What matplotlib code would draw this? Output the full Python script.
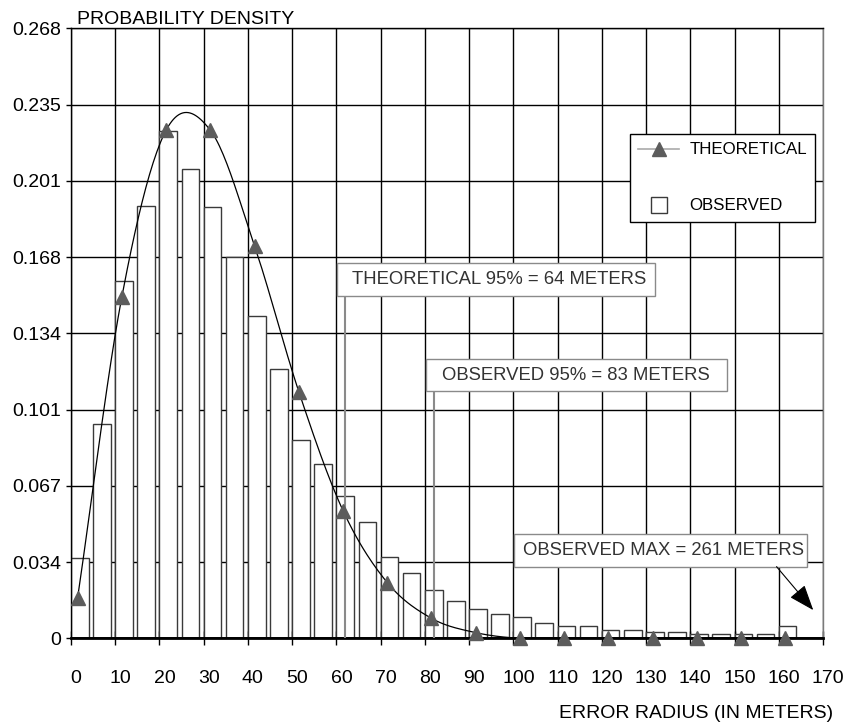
"""Error radius distribution: observed histogram vs theoretical density."""

import matplotlib
matplotlib.use("Agg")
import matplotlib.pyplot as plt
import matplotlib.transforms as mtransforms
from matplotlib.lines import Line2D
from matplotlib.patches import Rectangle
import numpy as np

plt.rcParams["font.family"] = ["Liberation Sans", "DejaVu Sans"]

# observed histogram, 5 m bins (left edge of each bin)
obs_bin_start = list(range(0, 165, 5))
obs_density = [0.0354, 0.0940, 0.1571, 0.1898, 0.2230, 0.2063, 0.1894, 0.1677,
               0.1415, 0.1183, 0.0871, 0.0764, 0.0627, 0.0513, 0.0359, 0.0286,
               0.0212, 0.0165, 0.0130, 0.0105, 0.0095, 0.0066, 0.0055, 0.0055,
               0.0035, 0.0035, 0.0029, 0.0029, 0.0019, 0.0019, 0.0019, 0.0019,
               0.0055]

# theoretical density, every 10 m
theo_radius = list(range(0, 170, 10))
theo_density = [0.0178, 0.150, 0.2232, 0.2232, 0.1724, 0.1084, 0.0561, 0.0245,
                0.0088, 0.0025, 0.0, 0.0, 0.0, 0.0, 0.0, 0.0, 0.0]

x_ticks = list(range(0, 171, 10))
y_tick_labels = ["0", "0.034", "0.067", "0.101", "0.134", "0.168", "0.201", "0.235", "0.268"]

notes = ["THEORETICAL 95% = 64 METERS", "OBSERVED 95% = 83 METERS", "OBSERVED MAX = 261 METERS"]

# drawing constants
THEO_SHIFT = 1.5        # markers sit a little right of the tick, as in the source chart
BAR_W = 4.0
MARK = "#5c5c5c"
BOXGRAY = "#8a8a8a"


def _smooth(xs, ys, n=24):
    """Catmull-Rom curve through the points (spreadsheet-style 'smoothed line')."""
    xs = np.asarray(xs, float)
    ys = np.asarray(ys, float)
    px = np.concatenate([[2 * xs[0] - xs[1]], xs, [2 * xs[-1] - xs[-2]]])
    py = np.concatenate([[2 * ys[0] - ys[1]], ys, [2 * ys[-1] - ys[-2]]])
    ox, oy = [], []
    t = np.linspace(0, 1, n, endpoint=False)
    for i in range(1, len(px) - 2):
        p0, p1, p2, p3 = py[i - 1], py[i], py[i + 1], py[i + 2]
        m1 = (p2 - p0) / 2
        m2 = (p3 - p1) / 2
        h00 = 2 * t**3 - 3 * t**2 + 1
        h10 = t**3 - 2 * t**2 + t
        h01 = -2 * t**3 + 3 * t**2
        h11 = t**3 - t**2
        ox.append(px[i] + t * (px[i + 1] - px[i]))
        oy.append(h00 * p1 + h10 * m1 + h01 * p2 + h11 * m2)
    ox.append([xs[-1]])
    oy.append([ys[-1]])
    return np.concatenate(ox), np.clip(np.concatenate(oy), 0, None)


fig = plt.figure(figsize=(8.48, 7.23), dpi=100)
ax = fig.add_axes([0.0837, 0.1171, 0.8868, 0.8438])

ax.bar(obs_bin_start, obs_density, width=BAR_W, align="edge", color="white",
       edgecolor="#3a3a3a", linewidth=1, zorder=2)

tx = [r + THEO_SHIFT for r in theo_radius]
cx, cy = _smooth(tx, theo_density)
ax.plot(cx, cy, color="black", lw=0.9, zorder=4)
ax.plot(tx, theo_density, ls="none", marker="^", ms=10, color=MARK, zorder=6, clip_on=False)

ax.axhline(0, color="black", lw=2, zorder=3)

# 95% markers
ax.plot([62, 62], [0, 0.1505], color=BOXGRAY, lw=1.5, zorder=4)
ax.plot([82, 82], [0, 0.1087], color=BOXGRAY, lw=1.5, zorder=4)

# annotation boxes: (x0, y0, x1, y1, text x)
boxes = [(60.1, 0.1505, 132.1, 0.1648, 63.5),
         (80.2, 0.1087, 148.2, 0.1226, 83.8),
         (100.2, 0.0315, 166.3, 0.0458, 102.2)]
for (x0, y0, x1, y1, xt), txt in zip(boxes, notes):
    ax.add_patch(Rectangle((x0, y0), x1 - x0, y1 - y0, facecolor="white",
                           edgecolor=BOXGRAY, lw=1, zorder=7))
    ax.text(xt, (y0 + y1) / 2, txt, ha="left", va="center", fontsize=13.3,
            color="#333333", zorder=8)

ax.annotate("", xy=(167.8, 0.0124), xytext=(159.5, 0.0315),
            arrowprops=dict(arrowstyle="-|>,head_length=1.6,head_width=0.6",
                            color="black", lw=0.8, shrinkA=0, shrinkB=0),
            zorder=8, annotation_clip=False)

ax.set_xlim(0, 170)
ax.set_ylim(0, 0.268)
ax.set_xticks(x_ticks)
ax.set_yticks(np.linspace(0, 0.268, len(y_tick_labels)))
ax.set_yticklabels(y_tick_labels)
ax.set_axisbelow(True)
ax.grid(True, color="black", lw=1)

ax.tick_params(axis="x", direction="inout", length=10, width=1, pad=18, labelsize=14)
ax.tick_params(axis="y", direction="out", length=3.6, width=1, pad=3.6, labelsize=14)
shift = mtransforms.ScaledTranslation(5 / 100, 0, fig.dpi_scale_trans)
for lbl in ax.get_xticklabels():
    lbl.set_transform(lbl.get_transform() + shift)

for side in ("left", "top"):
    ax.spines[side].set_color("black")
    ax.spines[side].set_linewidth(1)
ax.spines["bottom"].set_linewidth(2)
ax.spines["right"].set_color("#7a7a7a")
ax.spines["right"].set_linewidth(1)

h_theo = Line2D([], [], color="#aaaaaa", lw=1.2, marker="^", ms=10,
                markerfacecolor=MARK, markeredgecolor=MARK)
h_obs = Line2D([], [], ls="none", marker="s", ms=12, markerfacecolor="white",
               markeredgecolor="#3a3a3a")
leg = ax.legend([h_theo, h_obs], ["THEORETICAL", "OBSERVED"], loc="upper left",
                bbox_to_anchor=(0.7434, 0.8267), frameon=True, fancybox=False,
                edgecolor="black", framealpha=1, fontsize=12.2, labelspacing=2.42,
                handlelength=2.4, handletextpad=0.6, borderpad=0.5, borderaxespad=0)
leg.get_frame().set_linewidth(1)
leg.set_zorder(9)

fig.text(76.7 / 848, 1 - 24 / 723, "PROBABILITY DENSITY", fontsize=14, va="baseline")
fig.text(833 / 848, 1 - 718 / 723, "ERROR RADIUS (IN METERS)", fontsize=14,
         ha="right", va="baseline")

fig.savefig("out.png", dpi=100)
plt.close(fig)
